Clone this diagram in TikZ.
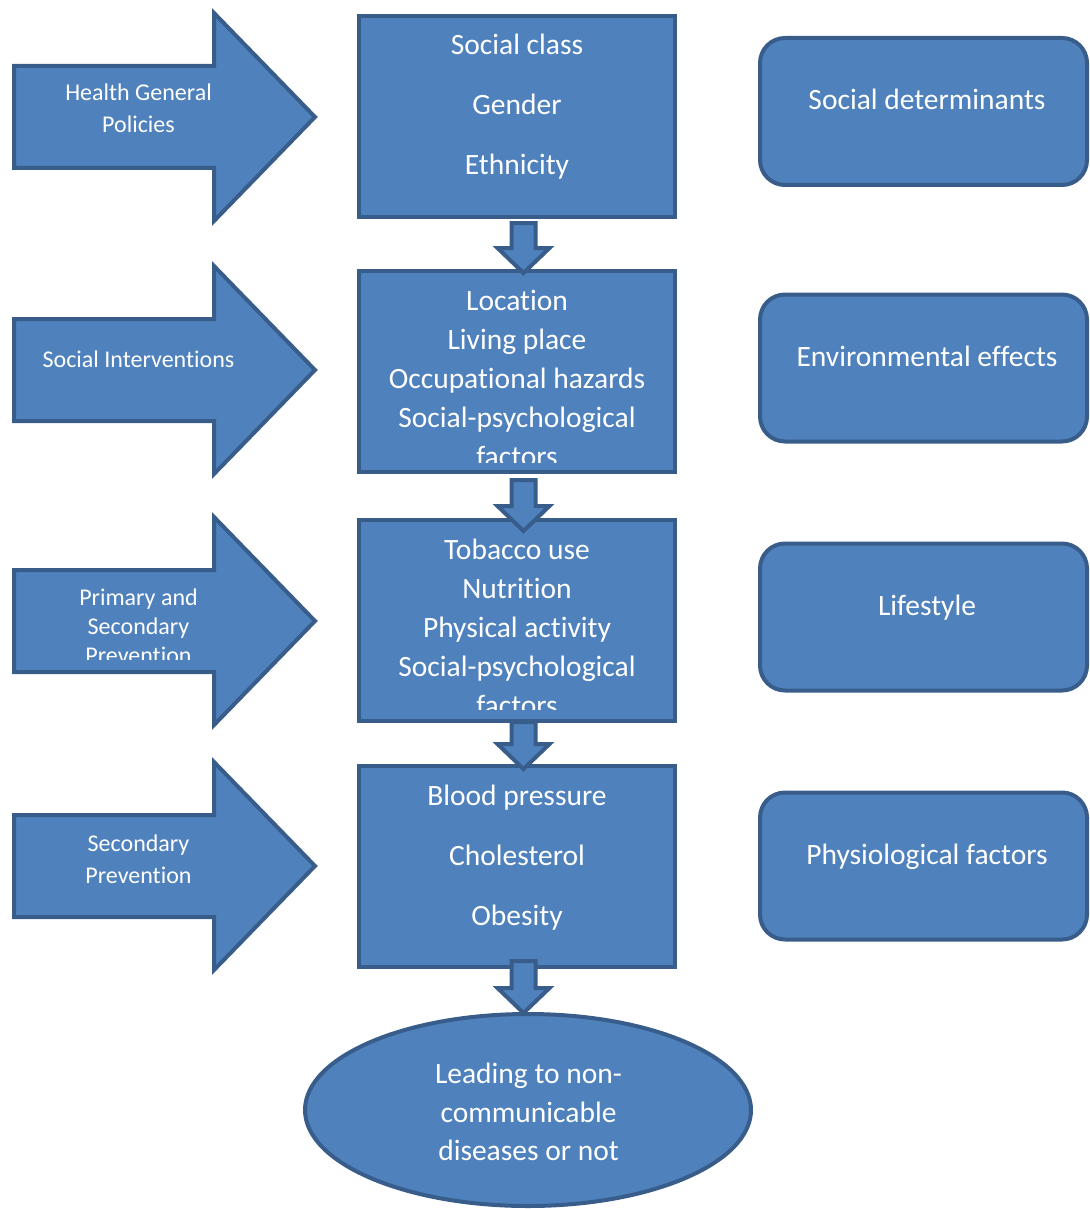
\documentclass[tikz,border=0pt]{standalone}
\usepackage{fontspec}
\setmainfont[Ligatures={NoCommon}]{Carlito}
\usetikzlibrary{calc,shapes.geometric}
\definecolor{fillblue}{HTML}{4F81BD}
\definecolor{edgeblue}{HTML}{385D8A}
\newcommand\blockdown[2]{%
  \path[shp] let \p1=#1, \p2=#2 in
    (\x1-12pt,\y1) -- (\x1+12pt,\y1) -- (\x1+12pt,\y2+25pt) -- (\x1+26pt,\y2+25pt)
    -- (\x1,\y2) -- (\x1-26pt,\y2+25pt) -- (\x1-12pt,\y2+25pt) -- cycle;}
\begin{document}
\begin{tikzpicture}[x=1pt,y=-1pt,
  shp/.style={fill=fillblue,draw=edgeblue,line width=4pt,line join=miter},
  boxnode/.style={shp,rectangle,minimum width=316pt,minimum height=201pt,inner sep=0pt},
  rbox/.style={shp,rectangle,rounded corners=25pt,minimum width=327pt,minimum height=147pt,inner sep=0pt},
  txt/.style={text=white,font=\fontsize{29.5}{35}\selectfont,anchor=base,inner sep=0pt},
  stxt/.style={text=white,font=\fontsize{24}{28}\selectfont,anchor=base,inner sep=0pt},
]
\useasboundingbox (0,0) rectangle (1089,1209);

% left block arrows
\foreach \c in {117,370,621,866}
  \path[shp] (14,\c-51) -- (214,\c-51) -- (214,\c-104) -- (315,\c)
    -- (214,\c+104) -- (214,\c+51) -- (14,\c+51) -- cycle;

% central boxes
\node[boxnode] (b1) at (517,116.5) {};
\node[boxnode] (b2) at (517,371.5) {};
\node[boxnode] (b3) at (517,620.5) {};
\node[boxnode] (b4) at (517,866.5) {};

% right rounded boxes
\node[rbox] (r1) at (923.5,111.5) {};
\node[rbox] (r2) at (923.5,368) {};
\node[rbox] (r3) at (923.5,617) {};
\node[rbox] (r4) at (923.5,866) {};

% ellipse
\node[shp,ellipse,minimum width=446pt,minimum height=192pt,inner sep=0pt] (e) at (528,1110) {};

% down block arrows (connectors)
\blockdown{($(b1.south)+(6.5,4)$)}{($(b2.north)+(6.5,4)$)}
\blockdown{($(b2.south)+(6.5,6)$)}{($(b3.north)+(6.5,13)$)}
\blockdown{($(b3.south)+(6.5,-1)$)}{($(b4.north)+(6.5,5)$)}
\blockdown{($(b4.south)+(6.5,-8)$)}{($(e.north)+(0.5,1)$)}

% left arrow texts
\node[stxt] (a1l1) at (138.5,101) {Health General};
\node[stxt] (a1l2) at (138.5,133) {Policies};
\node[stxt] (a2l1) at (138.5,367) {Social Interventions};
\begin{scope}
  \clip (14,560) rectangle (214,659);
  \node[stxt] (a3l1) at (138.5,605) {Primary and};
  \node[stxt] (a3l2) at (138.5,634) {Secondary};
  \node[stxt] (a3l3) at (138.5,663) {Prevention};
\end{scope}
\node[stxt] (a4l1) at (138.5,851) {Secondary};
\node[stxt] (a4l2) at (138.5,883) {Prevention};

% central box texts
\foreach \t/\y [count=\i] in {Social class/55,Gender/115,Ethnicity/175}
  \node[txt] (b1l\i) at (517,\y) {\t};
\begin{scope}
  \clip (359,271) rectangle (675,462);
  \foreach \t/\y [count=\i] in {Location/310,Living place/349,Occupational hazards/388,Social-psychological/427,factors/466}
    \node[txt] (b2l\i) at (517,\y) {\t};
\end{scope}
\begin{scope}
  \clip (359,520) rectangle (675,709);
  \foreach \t/\y [count=\i] in {Tobacco use/559,Nutrition/598,Physical activity/637,Social-psychological/676,factors/715}
    \node[txt] (b3l\i) at (517,\y) {\t};
\end{scope}
\foreach \t/\y [count=\i] in {Blood pressure/805,Cholesterol/865,Obesity/925}
  \node[txt] (b4l\i) at (517,\y) {\t};

% right box texts
\node[txt] (r1l) at (927,110) {Social determinants};
\node[txt] (r2l) at (927,366) {Environmental effects};
\node[txt] (r3l) at (927,615) {Lifestyle};
\node[txt] (r4l) at (927,864) {Physiological factors};

% ellipse text
\foreach \t/\y [count=\i] in {Leading to non-/1083,communicable/1122,diseases or not/1160}
  \node[txt] (el\i) at (528.5,\y) {\t};
\end{tikzpicture}
\end{document}
